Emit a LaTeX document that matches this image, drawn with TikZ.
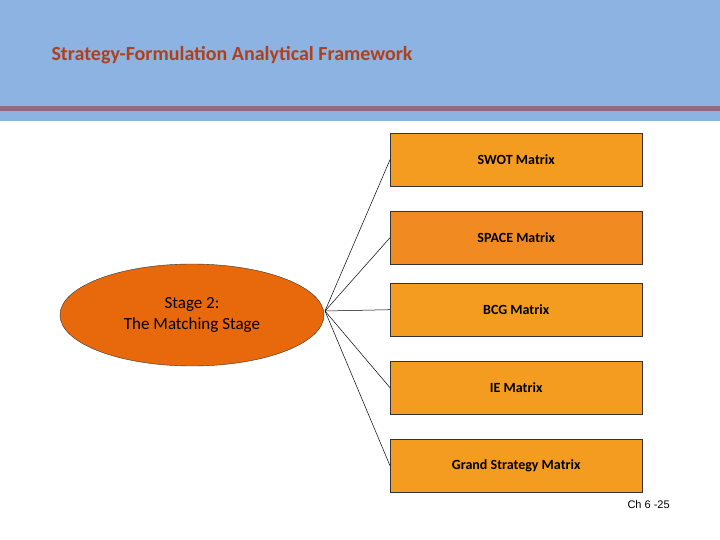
\documentclass[tikz,border=0pt]{standalone}
\usepackage{fontspec}
\setmainfont{Carlito}
\newfontfamily\arialf{Liberation Sans}
\usetikzlibrary{shapes.geometric}
\definecolor{hdr}{HTML}{8DB3E2}
\definecolor{hline}{HTML}{8E6A86}
\definecolor{ttl}{HTML}{B0401A}
\definecolor{boxo}{HTML}{F39C1F}
\definecolor{boxs}{HTML}{F28A22}
\definecolor{ell}{HTML}{E8680C}
\begin{document}
\begin{tikzpicture}[x=1pt,y=-1pt,
  mbox/.style={draw=black!80,fill=boxo,minimum width=252pt,minimum height=53pt,anchor=north west,inner sep=0pt,font=\bfseries\fontsize{14}{16}\selectfont},
  conn/.style={draw=black,line width=0.5pt}]
\useasboundingbox (0,0) rectangle (720,540);
\fill[hdr] (0,0) rectangle (720,121);
\fill[hline] (0,106) rectangle (720,111);
\node[anchor=west,text=ttl,font=\bfseries\fontsize{20}{24}\selectfont] (title) at (48,55) {Strategy-Formulation Analytical Framework};
\node[mbox] (b1) at (390,133) {SWOT Matrix};
\node[mbox,fill=boxs] (b2) at (390,211) {SPACE Matrix};
\node[mbox] (b3) at (390,283) {BCG Matrix};
\node[mbox] (b4) at (390,361) {IE Matrix};
\node[mbox] (b5) at (390,439) {Grand Strategy Matrix};
\node[ellipse,draw=black!80,fill=ell,minimum width=264pt,minimum height=102pt,inner sep=0pt,align=center,font=\fontsize{17}{21}\selectfont] (e) at (192,315) {Stage 2:\\The Matching Stage};
\coordinate (c) at (325,311);
\foreach \b in {b1,b2,b3,b4,b5} \draw[conn] (c) -- (\b.west);
\node[anchor=west,font=\arialf\fontsize{11}{13}\selectfont] (ft) at (624,505) {Ch 6 -25};
\end{tikzpicture}
\end{document}
